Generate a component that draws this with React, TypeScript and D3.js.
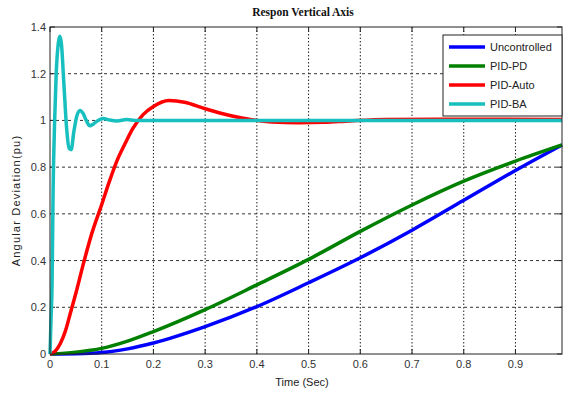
import React from "react";
import * as d3 from "d3";

// values (time in sec, deviation in pu)
const uncontrolledT = [0, 0.05, 0.1, 0.15, 0.2, 0.3, 0.4, 0.5, 0.6, 0.7, 0.8, 0.9, 0.99];
const uncontrolledV = [0, 0.001, 0.006, 0.022, 0.047, 0.117, 0.203, 0.305, 0.412, 0.53, 0.658, 0.786, 0.895];

const pidPdT = [0, 0.05, 0.1, 0.15, 0.2, 0.3, 0.4, 0.5, 0.6, 0.7, 0.8, 0.9, 0.99];
const pidPdV = [0, 0.008, 0.024, 0.055, 0.096, 0.19, 0.296, 0.405, 0.525, 0.638, 0.74, 0.826, 0.895];

const pidAutoT = [0, 0.01, 0.02, 0.03, 0.04, 0.05, 0.065, 0.08, 0.1, 0.115, 0.13, 0.145, 0.16, 0.18, 0.2, 0.23, 0.26, 0.3, 0.35, 0.39, 0.43, 0.48, 0.53, 0.58, 0.65, 0.75, 0.99];
const pidAutoV = [0, 0.012, 0.045, 0.1, 0.18, 0.26, 0.39, 0.51, 0.64, 0.74, 0.83, 0.9, 0.965, 1.025, 1.06, 1.085, 1.078, 1.05, 1.02, 1.003, 0.993, 0.99, 0.992, 0.998, 1.004, 1.005, 1.004];

const pidBaT = [0, 0.002, 0.004, 0.006, 0.009, 0.012, 0.016, 0.019, 0.022, 0.027, 0.032, 0.037, 0.041, 0.046, 0.052, 0.058, 0.064, 0.07, 0.077, 0.084, 0.093, 0.103, 0.115, 0.13, 0.148, 0.165, 0.3, 0.6, 0.99];
const pidBaV = [0, 0.15, 0.3, 0.7, 1.0, 1.2, 1.33, 1.36, 1.33, 1.15, 0.97, 0.88, 0.875, 0.95, 1.02, 1.043, 1.03, 1.0, 0.977, 0.985, 1.0, 1.008, 1.002, 0.998, 1.004, 1.0, 1.0, 1.0, 1.0];

const seriesNames = ["Uncontrolled", "PID-PD", "PID-Auto", "PID-BA"];
const seriesColors = ["#0000ff", "#008000", "#ff0000", "#17bfbf"];

const xTicks = [0, 0.1, 0.2, 0.3, 0.4, 0.5, 0.6, 0.7, 0.8, 0.9];
const yTicks = [0, 0.2, 0.4, 0.6, 0.8, 1, 1.2, 1.4];

const width = 564, height = 394;
const margin = { top: 27, right: 2, bottom: 40, left: 50 };

export default function App() {
  const x = d3.scaleLinear().domain([0, 0.99]).range([margin.left, width - margin.right]);
  const y = d3.scaleLinear().domain([0, 1.4]).range([height - margin.bottom, margin.top]);

  const line = d3.line<[number, number]>()
    .x(d => x(d[0]))
    .y(d => y(d[1]))
    .curve(d3.curveMonotoneX);

  const series = [
    d3.zip(uncontrolledT, uncontrolledV),
    d3.zip(pidPdT, pidPdV),
    d3.zip(pidAutoT, pidAutoV),
    d3.zip(pidBaT, pidBaV),
  ] as [number, number][][];

  const x0 = x.range()[0], x1 = x.range()[1];
  const y0 = y.range()[0], y1 = y.range()[1];

  // legend box
  const lg = { x: 443, y: 35, w: 119, h: 81 };

  return (
    <svg width={width} height={height} style={{ position: "absolute", left: 0, top: 0, background: "#fff" }}
      fontFamily="'Liberation Sans', Arial, sans-serif">
      <rect width={width} height={height} fill="#fff" />
      <text x={303} y={16} textAnchor="middle" fontFamily="'Liberation Serif', 'Times New Roman', serif"
        fontWeight="bold" fontSize={11.5} fill="#111">Respon Vertical Axis</text>

      {/* grid */}
      {xTicks.filter(t => t > 0).map(t => (
        <line key={"gx" + t} x1={x(t)} x2={x(t)} y1={y0} y2={y1} stroke="#222" strokeWidth={1} strokeDasharray="1.5,2" />
      ))}
      {yTicks.filter(t => t > 0 && t < 1.4).map(t => (
        <line key={"gy" + t} x1={x0} x2={x1} y1={y(t)} y2={y(t)} stroke="#333" strokeWidth={1} strokeDasharray="3,3" />
      ))}

      {/* ticks on all four sides */}
      {xTicks.map(t => (
        <g key={"tx" + t}>
          <line x1={x(t)} x2={x(t)} y1={y0} y2={y0 - 5} stroke="#222" />
          <line x1={x(t)} x2={x(t)} y1={y1} y2={y1 + 5} stroke="#222" />
          <text x={x(t)} y={y0 + 14} textAnchor="middle" fontSize={11} fill="#333">{String(t)}</text>
        </g>
      ))}
      {yTicks.map(t => (
        <g key={"ty" + t}>
          <line x1={x0} x2={x0 + 5} y1={y(t)} y2={y(t)} stroke="#222" />
          <line x1={x1} x2={x1 - 5} y1={y(t)} y2={y(t)} stroke="#222" />
          <text x={x0 - 4} y={y(t) + 4} textAnchor="end" fontSize={11} fill="#333">{String(t)}</text>
        </g>
      ))}

      {/* lines */}
      {series.map((d, i) => (
        <path key={seriesNames[i]} d={line(d) || ""} fill="none" stroke={seriesColors[i]} strokeWidth={3.5}
          strokeLinejoin="round" />
      ))}

      <rect x={x0} y={y1} width={x1 - x0} height={y0 - y1} fill="none" stroke="#222" strokeWidth={1} />

      {/* legend */}
      <rect x={lg.x} y={lg.y} width={lg.w} height={lg.h} fill="#fff" stroke="#222" strokeWidth={1} />
      {seriesNames.map((n, i) => (
        <g key={"lg" + n}>
          <line x1={lg.x + 6} x2={lg.x + 42} y1={lg.y + 12 + i * 19} y2={lg.y + 12 + i * 19}
            stroke={seriesColors[i]} strokeWidth={3.5} />
          <text x={lg.x + 47} y={lg.y + 16 + i * 19} fontSize={11} fill="#222">{n}</text>
        </g>
      ))}

      <text x={302} y={386} textAnchor="middle" fontSize={11} fill="#222">Time (Sec)</text>
      <text transform={`translate(20,${(y0 + y1) / 2 + 10}) rotate(-90)`} textAnchor="middle" fontSize={11}
        letterSpacing={1.2} fill="#222">Angular Deviation(pu)</text>
    </svg>
  );
}
